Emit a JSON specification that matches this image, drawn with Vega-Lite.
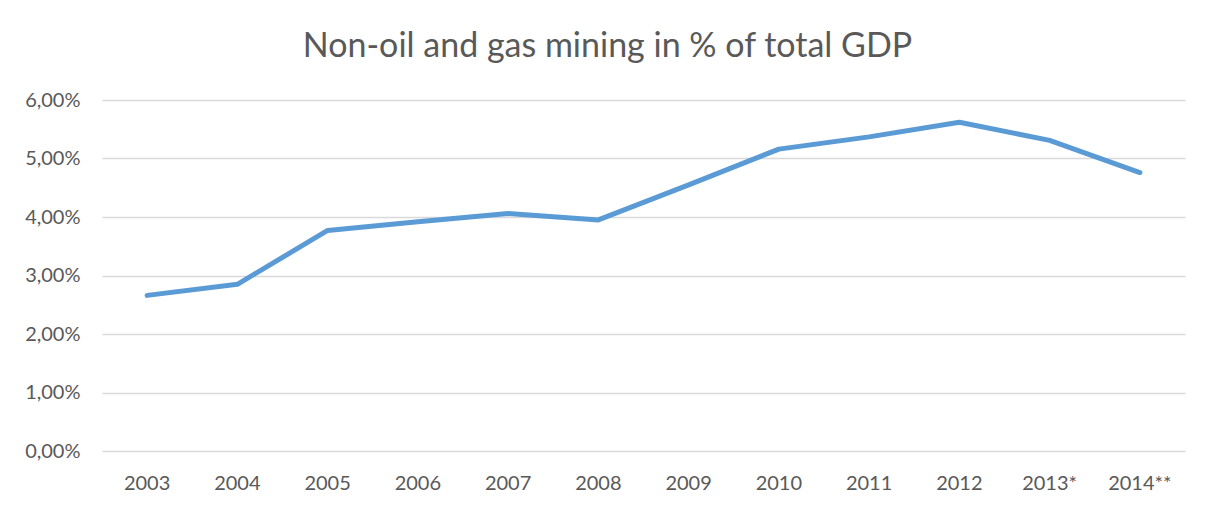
{
  "$schema": "https://vega.github.io/schema/vega-lite/v6.json",
  "width": 1083,
  "height": 351,
  "autosize": {"type": "none"},
  "padding": {"left": 102, "top": 100, "right": 27, "bottom": 62},
  "background": "white",
  "title": {
    "text": "Non-oil and gas mining in % of total GDP",
    "font": "Lato",
    "fontSize": 34,
    "fontWeight": "normal",
    "color": "#595959",
    "anchor": "middle",
    "dx": -36,
    "offset": 26
  },
  "data": {
    "values": [
      {"year": "2003", "value": 0.0266},
      {"year": "2004", "value": 0.0285},
      {"year": "2005", "value": 0.0377},
      {"year": "2006", "value": 0.0392},
      {"year": "2007", "value": 0.0406},
      {"year": "2008", "value": 0.0395},
      {"year": "2009", "value": 0.0455},
      {"year": "2010", "value": 0.0516},
      {"year": "2011", "value": 0.0537},
      {"year": "2012", "value": 0.0562},
      {"year": "2013*", "value": 0.0531},
      {"year": "2014**", "value": 0.0476}
    ]
  },
  "mark": {"type": "line", "color": "#5B9BD5", "strokeWidth": 5, "strokeCap": "round", "strokeJoin": "round"},
  "encoding": {
    "x": {
      "field": "year",
      "type": "ordinal",
      "sort": null,
      "scale": {"type": "band", "paddingInner": 0, "paddingOuter": 0},
      "axis": {
        "title": null,
        "labelAngle": 0,
        "ticks": false,
        "domain": false,
        "labelPadding": 22,
        "labelFont": "Lato",
        "labelFontSize": 20,
        "labelColor": "#595959"
      }
    },
    "y": {
      "field": "value",
      "type": "quantitative",
      "scale": {"domain": [0, 0.06]},
      "axis": {
        "title": null,
        "values": [0, 0.01, 0.02, 0.03, 0.04, 0.05, 0.06],
        "labelExpr": "replace(format(datum.value, '.2%'), '.', ',')",
        "ticks": false,
        "domain": false,
        "grid": true,
        "gridColor": "#D9D9D9",
        "gridWidth": 1.3,
        "labelPadding": 22,
        "labelFont": "Lato",
        "labelFontSize": 20,
        "labelColor": "#595959"
      }
    }
  },
  "config": {"view": {"stroke": null}}
}
